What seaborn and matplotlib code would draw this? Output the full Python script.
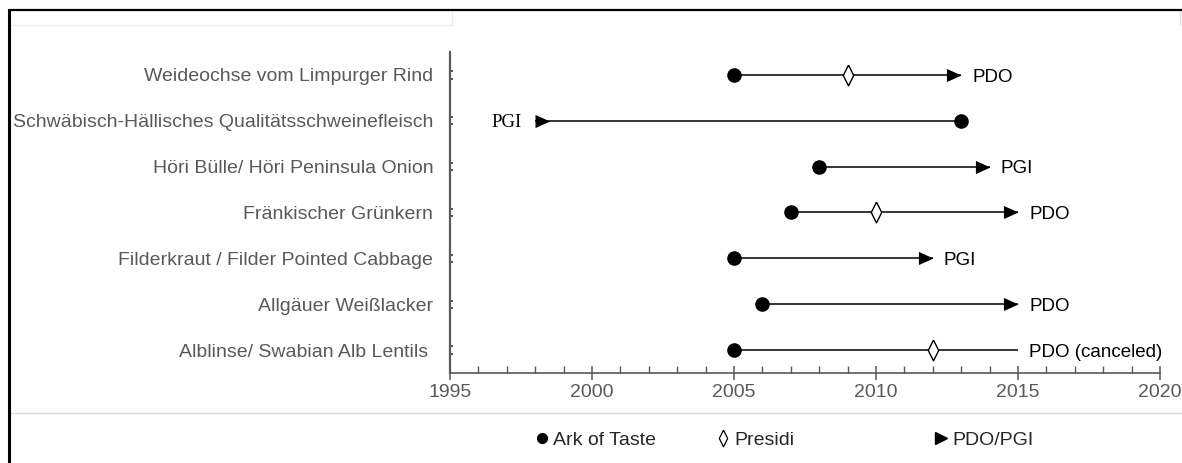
import numpy as np
import pandas as pd
import matplotlib
matplotlib.use("Agg")
import matplotlib.pyplot as plt
from matplotlib.lines import Line2D
from matplotlib.ticker import MultipleLocator, FixedLocator
import seaborn as sns

# Products with their Slow Food "Ark of Taste" listing, Presidium and EU protection years
products = [
    "Weideochse vom Limpurger Rind",
    "Schwäbisch-Hällisches Qualitätsschweinefleisch",
    "Höri Bülle/ Höri Peninsula Onion",
    "Fränkischer Grünkern",
    "Filderkraut / Filder Pointed Cabbage",
    "Allgäuer Weißlacker",
    "Alblinse/ Swabian Alb Lentils ",
]
ark_of_taste = [2005, 2013, 2008, 2007, 2005, 2006, 2005]
presidi = [2009, np.nan, np.nan, 2010, np.nan, np.nan, 2012]
protection = [2013, 1998, 2014, 2015, 2012, 2015, 2015]
protection_labels = ["PDO", "PGI", "PGI", "PDO", "PGI", "PDO", "PDO (canceled)"]
canceled = [False, False, False, False, False, False, True]
year_ticks = [1995, 2000, 2005, 2010, 2015, 2020]

sns.set_theme(style="white")
plt.rcParams["font.family"] = ["Liberation Sans", "DejaVu Sans"]

GREY = "#595959"

df = pd.DataFrame({
    "product": products,
    "ark": ark_of_taste,
    "presidi": presidi,
    "protection": protection,
    "label": protection_labels,
    "canceled": canceled,
})
df["row"] = np.arange(len(df))
df["start"] = df[["ark", "protection"]].min(axis=1)
df["end"] = df[["ark", "protection"]].max(axis=1)

fig = plt.figure(figsize=(11.82, 4.63), dpi=100)
ax = fig.add_axes([0.3807, 0.1944, 0.6007, 0.6933])

# timeline segments
ax.hlines(df["row"], df["start"], df["end"], color="black", lw=1.1, zorder=1)

# right-pointing triangles: one with its tip on the year, one with its base on it
tip_on_year = [(-1, -0.45), (0, 0), (-1, 0.45), (-1, -0.45)]
base_on_year = [(0, -0.45), (1, 0), (0, 0.45), (0, -0.45)]
diamond = [(0, 1), (0.5, 0), (0, -1), (-0.5, 0), (0, 1)]

active = df[~df["canceled"]]
forward = active[active["protection"] >= active["ark"]]
backward = active[active["protection"] < active["ark"]]

tri_s = 21 ** 2
sns.scatterplot(data=forward, x="protection", y="row", marker=tip_on_year,
                s=tri_s, color="black", linewidth=0, ax=ax, zorder=3, legend=False)
sns.scatterplot(data=backward, x="protection", y="row", marker=base_on_year,
                s=tri_s, color="black", linewidth=0, ax=ax, zorder=3, legend=False)
sns.scatterplot(data=df.dropna(subset=["presidi"]), x="presidi", y="row", marker=diamond,
                s=15 ** 2, color="white", edgecolor="black", linewidth=1.0,
                ax=ax, zorder=3, legend=False)
sns.scatterplot(data=df, x="ark", y="row", marker="o", s=10.5 ** 2, color="black",
                linewidth=0, ax=ax, zorder=4, legend=False)

# protection labels
for _, r in df.iterrows():
    if r["protection"] < r["ark"]:
        ax.annotate(r["label"], xy=(r["protection"], r["row"]), xytext=(-10, -1.5),
                    textcoords="offset points", ha="right", va="center",
                    fontsize=13.5, family="Liberation Serif", color="black")
    else:
        ax.annotate(r["label"], xy=(r["protection"], r["row"]), xytext=(8, -1.5),
                    textcoords="offset points", ha="left", va="center",
                    fontsize=13.5, color="black", annotation_clip=False)

ax.set_xlim(1995, 2020)
ax.set_ylim(6.5, -0.5)
ax.set_xlabel("")
ax.set_ylabel("")
ax.set_xticks(year_ticks, labels=[str(y) for y in year_ticks])
ax.xaxis.set_minor_locator(MultipleLocator(1))
ax.set_yticks(df["row"], labels=df["product"])
ax.yaxis.set_minor_locator(FixedLocator(
    np.concatenate([df["row"] - 0.08, df["row"] + 0.08])))

for side in ["top", "right"]:
    ax.spines[side].set_visible(False)
ax.spines["left"].set_color(GREY)
ax.spines["left"].set_linewidth(1.6)
ax.spines["bottom"].set_color(GREY)
ax.spines["bottom"].set_linewidth(1.2)

ax.tick_params(axis="x", which="major", direction="inout", length=10, width=1.1,
               color=GREY, labelsize=14, labelcolor=GREY, pad=3, bottom=True)
ax.tick_params(axis="x", which="minor", direction="in", length=5, width=1.0,
               color=GREY, bottom=True)
ax.tick_params(axis="y", which="major", length=0, labelsize=14, labelcolor=GREY, pad=12)
ax.tick_params(axis="y", which="minor", direction="in", length=2, width=1.4,
               color=GREY, left=True)

# legend entries placed along the bottom
entries = [
    (Line2D([], [], ls="none", marker="o", ms=7, color="black"), "Ark of Taste", 534),
    (Line2D([], [], ls="none", marker=diamond, ms=12, mfc="white", mec="black", mew=0.9),
     "Presidi", 715),
    (Line2D([], [], ls="none", marker=">", ms=9, color="black"), "PDO/PGI", 933),
]
W, H = 1182, 463
for handle, text, x in entries:
    fig.legend([handle], [text], loc="center left", bbox_to_anchor=(x / W, 1 - 440 / H),
               frameon=False, fontsize=14, handlelength=0.8, handletextpad=0.2,
               borderpad=0, borderaxespad=0)

# frame and separator lines of the figure
fig.add_artist(Line2D([10 / W, 1], [50 / H, 50 / H], color="#d9d9d9", lw=1))
fig.add_artist(Line2D([10 / W, 452 / W], [1 - 25 / H, 1 - 25 / H], color="#ececec", lw=1))
fig.add_artist(Line2D([452 / W, 452 / W], [1 - 25 / H, 1 - 11 / H], color="#ececec", lw=1))
fig.add_artist(Line2D([1180 / W, 1180 / W], [1 - 25 / H, 1 - 11 / H], color="#e0e0e0", lw=1))
fig.add_artist(Line2D([9.5 / W, 9.5 / W], [0, 1 - 10 / H], color="black", lw=2.2))
fig.add_artist(Line2D([8.5 / W, 1], [1 - 10 / H, 1 - 10 / H], color="black", lw=1.6))

fig.savefig("out.png", dpi=100, facecolor="white")
